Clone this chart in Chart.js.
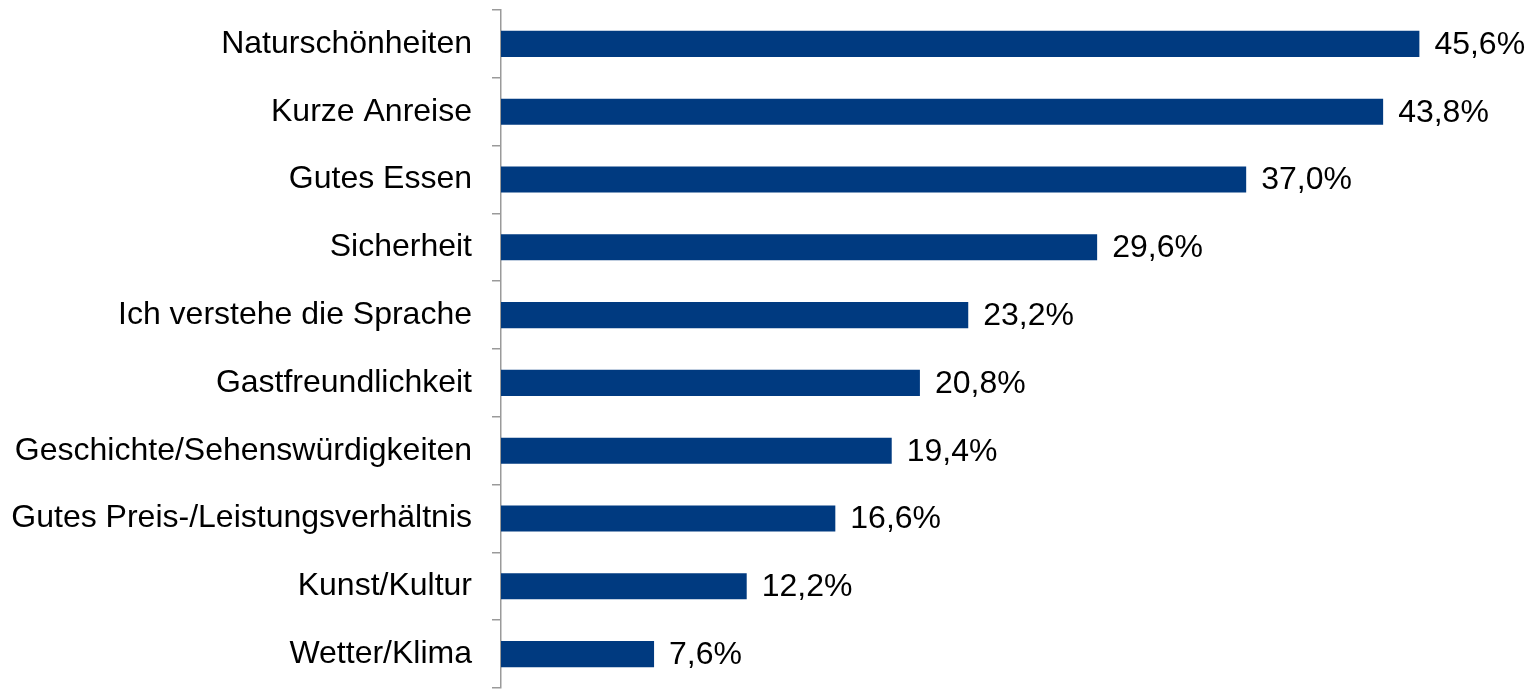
<!DOCTYPE html>
<html>
<head>
<meta charset="utf-8">
<script src="https://cdn.jsdelivr.net/npm/chart.js@4"></script>
<style>
  html, body { margin: 0; padding: 0; background: #fff; }
  #wrap { width: 1532px; height: 690px; }
</style>
</head>
<body>
<div id="wrap"><canvas id="chart"></canvas></div>
<script>
var categories = [
    'Naturschönheiten',
    'Kurze Anreise',
    'Gutes Essen',
    'Sicherheit',
    'Ich verstehe die Sprache',
    'Gastfreundlichkeit',
    'Geschichte/Sehenswürdigkeiten',
    'Gutes Preis-/Leistungsverhältnis',
    'Kunst/Kultur',
    'Wetter/Klima'
];
var values = [45.6, 43.8, 37.0, 29.6, 23.2, 20.8, 19.4, 16.6, 12.2, 7.6];

var textcolor = '#000000';
var axiscolor = '#9a9a9a';
var barcolor = '#003A80';
var fontFamily = '"Liberation Sans", Arial, sans-serif';

// draws the value next to the end of each bar, German decimal comma
var valueLabels = {
    id: 'valueLabels',
    afterDatasetsDraw: function(chart) {
        var ctx = chart.ctx;
        var meta = chart.getDatasetMeta(0);
        ctx.save();
        ctx.font = '32px ' + fontFamily;
        ctx.fillStyle = textcolor;
        ctx.textAlign = 'left';
        ctx.textBaseline = 'middle';
        meta.data.forEach(function(bar, i) {
            var txt = values[i].toFixed(1).replace('.', ',') + '%';
            ctx.fillText(txt, bar.x + 15, bar.y + 1);
        });
        ctx.restore();
    }
};

const config = {
    type: 'bar',
    data: {
        labels: categories,
        datasets: [{
            label: 'Anteil',
            backgroundColor: barcolor,
            borderColor: barcolor,
            data: values,
            barPercentage: 0.385,
            categoryPercentage: 1.0
        }]
    },
    options: {
        indexAxis: 'y',
        responsive: true,
        maintainAspectRatio: false,
        animation: false,
        layout: {
            padding: { top: 10, bottom: 2, left: 0, right: 24 }
        },
        plugins: {
            legend: { display: false },
            tooltip: { enabled: false }
        },
        scales: {
            x: {
                display: false,
                min: 0,
                max: 50
            },
            y: {
                afterFit: function(scale) {
                    scale.width = 501;
                    scale.paddingTop = 0;
                    scale.paddingBottom = 0;
                },
                ticks: {
                    color: textcolor,
                    font: { family: fontFamily, size: 32 },
                    padding: 20
                },
                grid: {
                    offset: true,
                    drawOnChartArea: false,
                    drawTicks: true,
                    tickLength: 9,
                    color: axiscolor,
                    lineWidth: 1.5
                },
                border: {
                    display: true,
                    color: axiscolor,
                    width: 1.5
                }
            }
        }
    },
    plugins: [valueLabels]
};

new Chart(document.getElementById('chart'), config);
</script>
</body>
</html>
